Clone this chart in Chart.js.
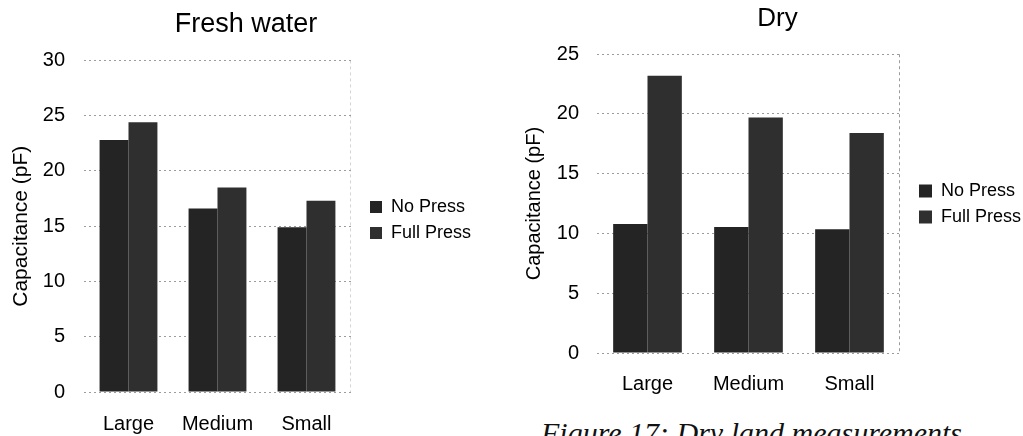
<!DOCTYPE html>
<html>
<head>
<meta charset="utf-8">
<script src="https://cdn.jsdelivr.net/npm/chart.js@4.4.1/dist/chart.umd.min.js"></script>
<style>
  body { margin: 0; width: 1023px; height: 436px; overflow: hidden; background: #fff; position: relative; }
  .box { position: absolute; top: 0; }
  canvas { display: block; }
  #caption {
    position: absolute; left: 541px; top: 418px;
    font: italic 30px/30px 'Liberation Serif', 'Times New Roman', serif;
    color: #111; white-space: nowrap;
  }
</style>
</head>
<body>
<div class="box" style="left:0"><canvas id="freshChart" width="492" height="440"></canvas></div>
<div class="box" style="left:518px"><canvas id="dryChart" width="519" height="408"></canvas></div>
<div id="caption">Figure 17: Dry land measurements</div>

<script>
const categories = ['Large', 'Medium', 'Small'];
const seriesNames = ['No Press', 'Full Press'];

const freshNoPress = [22.8, 16.6, 14.9];
const freshFullPress = [24.4, 18.5, 17.3];
const dryNoPress = [10.8, 10.55, 10.35];
const dryFullPress = [23.2, 19.7, 18.4];

const freshMax = 30;
const dryMax = 25;
const tickStep = 5;

Chart.defaults.font.family = "'Liberation Sans', Arial, sans-serif";
Chart.defaults.color = '#000';

function drawChart(id, title, noPress, fullPress, max, s) {
  const ctx = document.getElementById(id).getContext('2d');
  return new Chart(ctx, {
    type: 'bar',
    data: {
      labels: categories,
      datasets: [
        { label: seriesNames[0], data: noPress, backgroundColor: '#242424', borderColor: '#000', borderWidth: 0 },
        { label: seriesNames[1], data: fullPress, backgroundColor: '#2f2f2f', borderColor: '#000', borderWidth: 0 }
      ]
    },
    options: {
      responsive: false,
      animation: false,
      datasets: { bar: { categoryPercentage: s.catPct, barPercentage: 1 } },
      plugins: {
        title: {
          display: true, text: title, color: '#000',
          font: { size: s.titleSize, weight: 'normal' },
          padding: { top: s.titleTop, bottom: s.titleBottom }
        },
        legend: {
          position: 'right',
          maxWidth: 200,
          labels: { boxWidth: s.boxSize, boxHeight: s.boxSize, padding: 8, font: { size: 18 }, color: '#000' }
        },
        tooltip: { enabled: false }
      },
      scales: {
        x: {
          grid: { display: true, drawTicks: false, color: c => (c.type === 'tick' ? 'rgba(0,0,0,0)' : s.edgeColor) },
          border: { display: false, dash: [3, 3] },
          ticks: { font: { size: s.tickSize }, padding: s.xPad, color: '#000' },
          afterFit: a => { a.height = s.xHeight; }
        },
        y: {
          min: 0, max: max,
          ticks: { stepSize: tickStep, font: { size: s.tickSize }, padding: s.yPad, color: '#000' },
          grid: { color: '#9c9c9c', drawTicks: false },
          border: { display: false, dash: [2, 3] },
          title: {
            display: true, text: 'Capacitance (pF)', color: '#000',
            font: { size: s.axisTitleSize }, padding: { top: s.axisTitlePad, bottom: 0 }
          },
          afterFit: a => { a.width = s.yWidth; }
        },
        gap: {
          type: 'linear', position: 'right', display: true,
          ticks: { display: false }, grid: { display: false }, border: { display: false },
          afterFit: a => { a.width = s.gap; }
        },
        margin: {
          type: 'linear', position: 'right', weight: 2000, display: true,
          ticks: { display: false }, grid: { display: false }, border: { display: false },
          afterFit: a => { a.width = s.margin; }
        }
      }
    }
  });
}

drawChart('freshChart', 'Fresh water', freshNoPress, freshFullPress, freshMax, {
  titleSize: 27, titleTop: 8, titleBottom: 20,
  catPct: 0.65, tickSize: 20, xPad: 20, xHeight: 48,
  yPad: 19, yWidth: 84, axisTitleSize: 21, axisTitlePad: 9,
  boxSize: 12, gap: 11, margin: 11, edgeColor: '#d4d4d4'
});

drawChart('dryChart', 'Dry', dryNoPress, dryFullPress, dryMax, {
  titleSize: 26, titleTop: 3, titleBottom: 20,
  catPct: 0.68, tickSize: 20, xPad: 19, xHeight: 55,
  yPad: 18, yWidth: 79, axisTitleSize: 20, axisTitlePad: 4,
  boxSize: 13, gap: 11, margin: 6, edgeColor: '#9c9c9c'
});
</script>
</body>
</html>
